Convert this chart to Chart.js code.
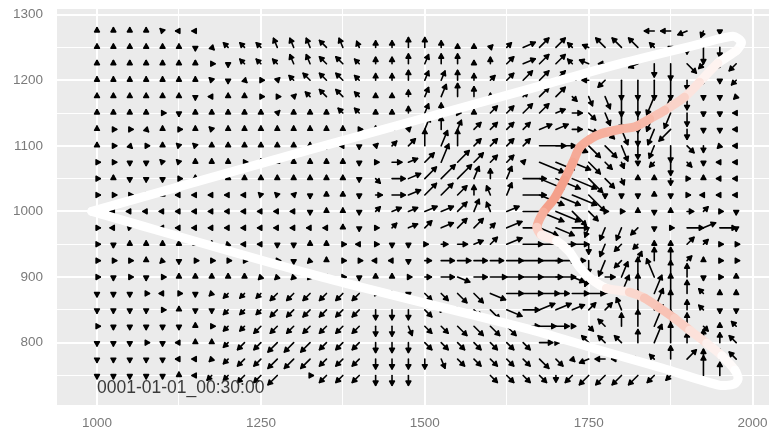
<!DOCTYPE html>
<html>
<head>
<meta charset="utf-8">
<script src="https://cdn.jsdelivr.net/npm/chart.js@4.4.1/dist/chart.umd.min.js"></script>
<style>
  html, body { margin: 0; padding: 0; background: #ffffff; }
  #wrap { width: 769px; height: 434px; }
</style>
</head>
<body>
<div id="wrap"><canvas id="flow"></canvas></div>
<script>
// grid positions of the vector field
const X_COLS = [1000, 1025, 1050, 1075, 1100, 1125, 1150, 1175, 1200, 1225,
                1250, 1275, 1300, 1325, 1350, 1375, 1400, 1425, 1450, 1475,
                1500, 1525, 1550, 1575, 1600, 1625, 1650, 1675, 1700, 1725,
                1750, 1775, 1800, 1825, 1850, 1875, 1900, 1925, 1950, 1975];
const Y_ROWS = [1275, 1250, 1225, 1200, 1175, 1150, 1125, 1100, 1075, 1050, 1025,
                1000, 975, 950, 925, 900, 875, 850, 825, 800, 775, 750];

// one string per row, one token per column: compass direction + speed (.: no vector)
const FIELD_ROWS = [
  "n1 n1 n1 n1 nw1 w1 w1 . . . . . . . . . . . . . . . . . . . . . . . . . . . w3 w3 wsw3 ssw2 s1 .",
  "n1 n1 n1 n1 n1 n1 s1 se1 nw2 nw2 nw2 nnw3 nnw3 nnw3 nw3 nnw3 nnw2 n2 n2 n3 n3 n2 n1 n1 ne1 ne2 ene4 ne4 ne4 nw2 wnw2 nw4 nw4 nw4 nw2 s1 s2 s5 s3 se1",
  "n1 n1 n1 n1 n1 n1 n1 e1 s1 nw2 nw2 nw2 nnw3 nnw3 nw3 nw3 nw2 n2 n2 n3 nne3 n3 n3 n1 n2 ne3 ene4 ne4 ne4 nw2 wnw3 w2 w1 wsw3 s4 s5 se4 sw2 sw2 sw3",
  "n1 n1 n1 n1 n1 n1 n1 nw1 s1 se1 e1 ne1 nw2 nw3 nw3 nw3 nw2 n2 n2 n3 nne3 nne3 n3 n2 ne2 ne3 ne4 ne4 ne4 ne2 w2 sw3 s6 s6 s6 s6 s3 s1 s1 sw2",
  "n1 n1 n1 n1 n1 n1 s1 w1 n1 n1 e1 e1 ne1 nw2 nw3 nw3 nw2 n1 n1 n2 nne3 nne4 n4 n3 n1 ne2 ne2 ne4 ne4 se2 sse3 sse4 s6 s6 ssw6 ssw6 s4 s1 s1 sw1",
  "n1 n1 n1 n1 e1 s1 n1 n1 n1 n1 n1 ne1 n1 n1 n1 nw2 nw2 n1 n1 n2 nne3 n3 e1 n1 ne3 ne3 ne4 ne4 ene3 e3 se3 sse4 s5 s6 ssw6 ssw5 s4 s1 s1 w1",
  "n1 e1 e1 se1 n1 e1 n1 nw1 n1 n1 n1 n1 n1 n1 n1 n1 e1 n1 n1 ne1 nne4 n4 nne3 ne3 ne3 ne3 ne3 ene4 ene4 e3 ese3 se4 sse5 s5 ssw5 sw5 s3 s1 s1 w1",
  "n1 e1 se1 e1 n1 nw1 nw1 n1 n1 n1 n1 n1 n1 n1 s1 w1 s1 ne1 ne2 ne3 n5 nne5 n5 ne3 ne3 ne3 ne3 e8 e6 ese5 se5 se5 sse5 s4 ssw4 s5 se3 s2 sw1 w1",
  "e1 e1 s1 s1 nw1 nw1 n1 n1 n1 e1 n1 n1 n1 n1 n1 n1 s1 e1 e3 ene3 ne4 nne6 ne5 ne4 ne3 ne3 ne1 ese8 ese6 ese6 se5 se3 sse2 s1 sw2 s4 se2 s1 w1 w1",
  "e1 n1 s1 s1 s1 e1 n1 n1 n1 n1 n1 n1 n1 n1 n1 n1 s1 se2 e4 ene4 ne5 ne6 ne6 nne4 n3 nne4 e7 ese8 ese8 ese8 se6 se4 sse2 n1 n1 s2 e1 n1 w1 w1",
  "e1 e1 e1 e1 n1 w1 w1 w1 w1 w1 nw1 nw1 ne1 s1 n1 n1 s1 e2 e4 ene4 ne5 ne5 ne4 n3 nnw3 nne4 e7 ese8 ese8 ese8 se7 s1 s1 s1 n1 s1 e1 w1 w1 w1",
  ". w1 w1 w1 w1 w1 w1 w1 w1 w1 w1 w1 w1 s1 n1 n1 s1 ne2 ene3 ene3 ene4 ene4 ne4 nne4 nnw3 ene4 e7 ese8 ese8 se6 se4 e1 e1 n1 s1 n1 e2 ne2 e1 s1",
  "e1 w1 nw1 w1 w1 w1 w1 w1 w1 w1 w1 w1 w1 w1 w1 n1 s1 e1 ne2 ene3 ne3 ene4 ne4 ne4 ne2 ene5 e5 ese6 ese6 e5 ssw3 ssw4 ssw4 sw3 s1 e1 e5 ene4 e5 s1",
  "e1 s1 n1 n1 n1 n1 n1 n1 sw1 w1 w1 s1 s1 n1 n1 e1 w1 e1 s1 s1 e1 e2 e3 ene3 ne3 ene5 e6 e7 e6 e5 s3 ssw4 sw3 sw2 n1 n1 ne3 ne2 e1 e1",
  "e1 e1 e1 n1 sw1 s1 e1 e1 e1 e1 e1 e1 s1 sw1 n1 e1 e1 w1 w1 s1 e2 e4 e4 e4 e4 e5 e6 e7 e6 e4 s4 ssw5 sw3 nne3 n4 n4 ne2 n1 e1 e1",
  "e1 s1 e1 s1 e1 n1 n1 n1 n1 n1 sw1 sw1 sw1 sw1 w1 e1 s1 n1 n1 e1 e2 e4 ese4 e4 e5 e5 e6 e7 e6 ese4 ssw3 e3 nne5 n6 nnw6 n5 n4 s1 e1 n1",
  "s1 s1 s1 e1 w1 e1 s1 sw1 sw2 sw2 sw2 sw3 sw3 sw3 sw3 sw3 sw3 e1 e1 s1 se3 se3 se4 se4 ese5 e5 e6 e6 e4 e5 e5 ene4 nne6 n6 nne6 n6 n4 nw2 n1 n1",
  "s1 s1 s1 s1 e1 n1 s1 s1 sw2 sw2 sw2 sw3 sw3 sw3 sw3 sw3 sw3 s3 s3 s3 se3 e1 e1 se3 se4 ese5 e5 ene5 ene5 ene4 ne3 ne3 nnw4 n6 nne7 n6 n3 nw2 s1 s1",
  "e1 s1 s1 s1 s1 s1 n1 e1 sw2 sw2 sw3 sw3 sw3 sw3 sw3 sw3 sw3 s3 s3 sse3 se3 se3 se4 se4 se4 se4 e5 e5 e4 e1 se2 nw3 n4 n5 nne7 n5 n4 se2 n1 nw2",
  "s1 s1 s1 e1 s1 w1 n1 n1 sw2 sw3 sw3 sw4 sw4 sw4 sw3 sw3 sw3 s3 s3 s3 se3 se3 se3 se3 se3 se3 se3 e4 e1 nw2 nw3 nw3 nw3 n4 nne6 n6 n3 n4 n3 nw3",
  "s1 s1 s1 s1 s1 w1 w1 sw1 sw2 sw3 sw3 sw4 sw4 sw4 sw3 sw3 sw3 s3 s3 s3 s3 sse3 se3 se3 se3 se3 se3 se4 se3 se1 wsw3 w3 w3 w2 nw2 n4 ne4 n3 n3 nw3",
  "s1 s1 s1 s1 s1 n1 w1 sw2 sw2 sw3 sw3 sw4 . e1 sw3 sw3 sw3 s3 s3 s3 . . . . se3 se3 se3 se3 s2 sw3 sw4 sw4 sw4 sw4 sw3 sw2 s1 n6 n4 ."
];

// body outline, and how red each vertex is (0 white .. 1 salmon)
const OUTLINE_X = [992, 1332, 1675, 1797, 1919, 1970, 1983, 1975, 1947, 1919,
                   1896, 1866, 1843, 1823, 1797, 1771, 1752, 1736, 1726, 1713,
                   1698, 1681, 1671, 1678, 1701, 1721, 1736, 1755, 1777, 1812,
                   1835, 1858, 1881, 1904, 1930, 1953, 1973, 1978, 1972, 1950,
                   1863, 1762, 1668, 1332, 992];
const OUTLINE_Y = [1000, 1096, 1191, 1225, 1255, 1267, 1258, 1245, 1226, 1197,
                   1174, 1154, 1141, 1130, 1125, 1119, 1110, 1097, 1075, 1048,
                   1020, 999, 976, 964, 955, 938, 915, 896, 883, 877,
                   868, 853, 837, 819, 799, 780, 758, 745, 737, 735,
                   761, 790, 818, 903, 1000];
const OUTLINE_RED = [0, 0, 0, 0, 0, 0, 0, 0, 0.05, 0.2,
                     0.35, 0.55, 0.7, 0.75, 0.8, 0.8, 0.85, 0.85, 0.9, 0.95,
                     1, 0.95, 0.7, 0.3, 0.05, 0, 0, 0, 0.05, 0.3,
                     0.55, 0.65, 0.6, 0.4, 0.22, 0.08, 0, 0, 0, 0,
                     0, 0, 0, 0, 0];

const X_TICKS = [1000, 1125, 1250, 1375, 1500, 1625, 1750, 1875, 2000];
const Y_TICKS = [750, 800, 850, 900, 950, 1000, 1050, 1100, 1150, 1200, 1250, 1300];

const LABEL_TEXT = '0001-01-01_00:30:00';
const LABEL_X = 1000;
const LABEL_Y = 731;

const DIRS = { e: 0, ene: 22.5, ne: 45, nne: 67.5, n: 90, nnw: 112.5, nw: 135, wnw: 157.5,
               w: 180, wsw: 202.5, sw: 225, ssw: 247.5, s: 270, sse: 292.5, se: 315, ese: 337.5 };
const SPEED_SCALE = 5;   // data units per speed step

const vectors = [];
FIELD_ROWS.forEach((row, j) => {
    row.trim().split(/\s+/).forEach((tok, i) => {
        const m = tok.match(/^([a-z]+)(\d)$/);
        if (!m) return;
        const a = DIRS[m[1]] * Math.PI / 180;
        const len = +m[2] * SPEED_SCALE;
        vectors.push({ x: X_COLS[i], y: Y_ROWS[j], u: len * Math.cos(a), v: len * Math.sin(a) });
    });
});

function redShade(t) {
    const r = Math.round(255 + (244 - 255) * t);
    const g = Math.round(255 + (158 - 255) * t);
    const b = Math.round(255 + (136 - 255) * t);
    return `rgb(${r},${g},${b})`;
}

const panelBg = {
    id: 'panelBg',
    beforeDraw(chart) {
        const { ctx, chartArea: a } = chart;
        ctx.save();
        ctx.fillStyle = '#ebebeb';
        ctx.fillRect(a.left, a.top, a.right - a.left, a.bottom - a.top);
        ctx.restore();
    }
};

const arrows = {
    id: 'arrows',
    beforeDatasetsDraw(chart) {
        const { ctx, chartArea: a, scales: { x, y } } = chart;
        ctx.save();
        ctx.beginPath();
        ctx.rect(a.left, a.top, a.right - a.left, a.bottom - a.top);
        ctx.clip();
        ctx.strokeStyle = '#000';
        ctx.fillStyle = '#000';
        ctx.lineWidth = 1.6;
        ctx.lineCap = 'round';
        ctx.lineJoin = 'round';
        const head = 4.8, spread = 0.52;
        vectors.forEach(p => {
            const x0 = x.getPixelForValue(p.x), y0 = y.getPixelForValue(p.y);
            const x1 = x.getPixelForValue(p.x + p.u), y1 = y.getPixelForValue(p.y + p.v);
            const ang = Math.atan2(y1 - y0, x1 - x0);
            ctx.beginPath();
            ctx.moveTo(x0, y0);
            ctx.lineTo(x1, y1);
            ctx.stroke();
            ctx.beginPath();
            ctx.moveTo(x1, y1);
            ctx.lineTo(x1 - head * Math.cos(ang - spread), y1 - head * Math.sin(ang - spread));
            ctx.lineTo(x1 - head * Math.cos(ang + spread), y1 - head * Math.sin(ang + spread));
            ctx.closePath();
            ctx.fill();
            ctx.stroke();
        });
        ctx.restore();
    }
};

const stamp = {
    id: 'stamp',
    afterDatasetsDraw(chart) {
        const { ctx, scales: { x, y } } = chart;
        ctx.save();
        ctx.font = '17.5px "Liberation Sans", Arial, sans-serif';
        ctx.fillStyle = '#3a3a3a';
        ctx.textAlign = 'left';
        ctx.textBaseline = 'middle';
        ctx.fillText(LABEL_TEXT, x.getPixelForValue(LABEL_X), y.getPixelForValue(LABEL_Y));
        ctx.restore();
    }
};

Chart.defaults.font.family = '"Liberation Sans", Arial, sans-serif';

new Chart(document.getElementById('flow'), {
    type: 'scatter',
    data: {
        datasets: [{
            data: OUTLINE_X.map((v, i) => ({ x: v, y: OUTLINE_Y[i] })),
            showLine: true,
            pointRadius: 0,
            borderWidth: 9,
            borderColor: '#ffffff',
            borderCapStyle: 'round',
            borderJoinStyle: 'round',
            tension: 0.25,
            segment: {
                borderColor: ctx => redShade((OUTLINE_RED[ctx.p0DataIndex] + OUTLINE_RED[ctx.p1DataIndex]) / 2)
            }
        }]
    },
    options: {
        responsive: true,
        maintainAspectRatio: false,
        animation: false,
        layout: { padding: { top: 9, right: 0, left: 0, bottom: 0 } },
        plugins: { legend: { display: false }, tooltip: { enabled: false } },
        scales: {
            x: {
                type: 'linear',
                min: 939,
                max: 2025,
                afterBuildTicks: s => { s.ticks = X_TICKS.map(v => ({ value: v })); },
                afterFit: s => { s.height = 29; s.paddingLeft = 0; s.paddingRight = 0; },
                border: { display: false },
                grid: {
                    color: '#ffffff',
                    lineWidth: c => (c.tick && (c.tick.value - 1000) % 250 === 0) ? 2 : 1,
                    drawTicks: false
                },
                ticks: {
                    autoSkip: false,
                    maxRotation: 0,
                    padding: 10,
                    color: '#7a7a7a',
                    font: { size: 13.5 },
                    callback: v => ((v - 1000) % 250 === 0 ? String(v) : '')
                }
            },
            y: {
                type: 'linear',
                min: 705,
                max: 1308.5,
                afterBuildTicks: s => { s.ticks = Y_TICKS.map(v => ({ value: v })); },
                afterFit: s => { s.width = 57; s.paddingTop = 0; s.paddingBottom = 0; },
                border: { display: false },
                grid: {
                    color: '#ffffff',
                    lineWidth: c => (c.tick && c.tick.value % 100 === 0) ? 2 : 1,
                    drawTicks: false
                },
                ticks: {
                    autoSkip: false,
                    padding: 14,
                    color: '#7a7a7a',
                    font: { size: 13.5 },
                    callback: v => (v % 100 === 0 ? String(v) : '')
                }
            }
        }
    },
    plugins: [panelBg, arrows, stamp]
});
</script>
</body>
</html>
